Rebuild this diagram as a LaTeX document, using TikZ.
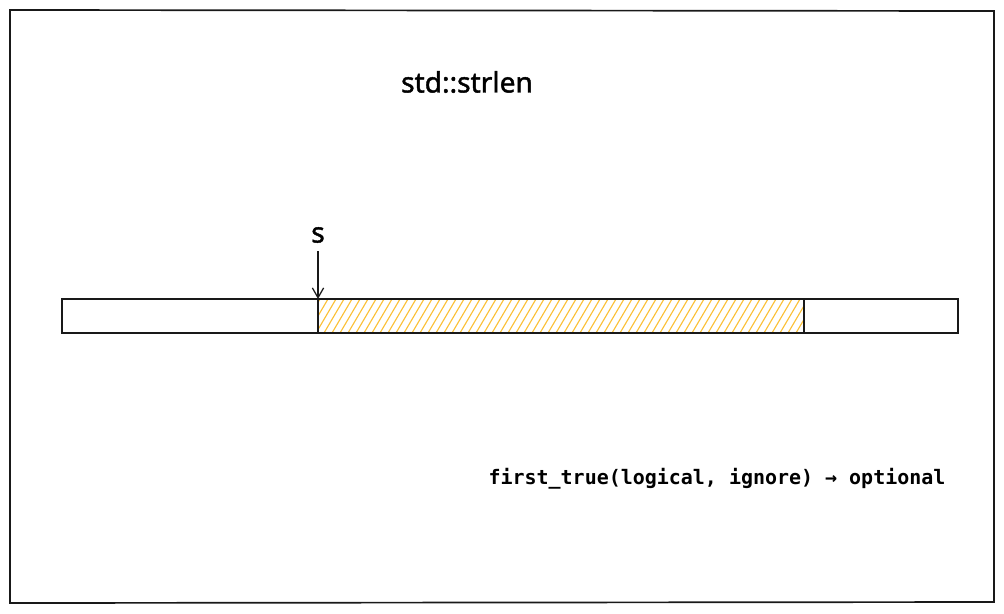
\documentclass[tikz,border=0pt]{standalone}
\usepackage{fontspec}
\setmonofont{DejaVu Sans Mono}
\newfontfamily\handfont[FakeBold=1.5]{Noto Sans}
\usepackage{tikz}
\usetikzlibrary{arrows.meta}
\usetikzlibrary{calc}
\tikzset{>={Straight Barb[length=7pt,width=8pt]}}
\definecolor{excyellow}{RGB}{250,176,5}
\colorlet{inkcol}{black!90}
\colorlet{hatchcol}{excyellow!80}
\tikzstyle{sketch}=[draw=inkcol,line width=1.2pt]
\tikzstyle{hatch}=[hatchcol,line width=0.8pt]
\tikzstyle{title}=[font=\handfont\fontsize{20}{24}\selectfont,inner sep=0pt]
\tikzstyle{code}=[font=\ttfamily\bfseries\fontsize{14.2}{17}\selectfont,inner sep=0pt]

\begin{document}
\begin{tikzpicture}[x=0.025cm,y=-0.025cm]
  \def\L{62}    % left end of buffer
  \def\R{958}   % right end of buffer
  \def\T{299}   % top of buffer
  \def\B{333}   % bottom of buffer
  \def\S{318}   % start of string
  \def\E{804}   % end of string

  % page size
  \useasboundingbox (0,0) rectangle (1004,613);

  % outer frame
  \draw[sketch] (10,10) -- (994,11) -- (994,602) -- (10,603) -- cycle;

  \node[title] (name) at (467,82) {std::strlen};

  % hatched part of the buffer : the characters of the string
  \begin{scope}
    \clip (\S,\T) rectangle (\E,\B);
    \foreach \x in {300,308,...,810} {
      \draw[hatch] (\x,\B) -- ++(20,-34);
    }
  \end{scope}

  % buffer
  \draw[sketch] (\L,\T) rectangle (\R,\B);
  \draw[sketch] (\S,\T) rectangle (\E,\B);

  % pointer to the first character
  \coordinate (sptr) at (\S,\T);
  \node[title] (s) at (\S,235) {s};
  \draw[sketch,line width=0.9pt,->] ($(s.south)+(0,8)$) -- (sptr);

  \node[code] (call) at (717,479) {first\_true(logical, ignore) → optional};
\end{tikzpicture}
\end{document}
